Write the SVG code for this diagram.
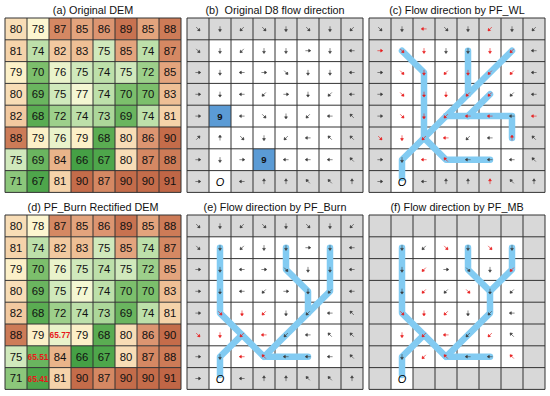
<svg xmlns="http://www.w3.org/2000/svg" xmlns:xlink="http://www.w3.org/1999/xlink" width="550" height="396" viewBox="0 0 550 396">
<style>
text{font-family:"Liberation Sans",Arial,sans-serif}
.t{font-size:10.8px;fill:#111;text-anchor:middle}
.n{font-size:11.3px;fill:#111;text-anchor:middle}
.rn{font-size:8.3px;font-weight:bold;fill:#e8191a;text-anchor:middle}
.grid{fill:none;stroke:#333;stroke-width:1}
.g{fill:#d8d8d8}.w{fill:#fff}.bl{fill:#5b9bd5}
.flow{fill:none;stroke:#82cbf2;stroke-width:6.5;stroke-linecap:round;stroke-linejoin:round}
.k{fill:#3a3a3a;stroke:#3a3a3a;stroke-width:0.6}
.r{fill:#e8191a;stroke:#e8191a}
.o{font-size:11px;font-style:italic;text-anchor:middle;fill:#000}
.nine{font-size:9.5px;font-weight:bold;text-anchor:middle;fill:#111}
.c66{fill:#45a045}.c67{fill:#4ea64b}.c68{fill:#5aac52}.c69{fill:#6ab55f}.c70{fill:#7cbf6c}.c71{fill:#8cc77b}.c72{fill:#9dd08b}.c73{fill:#acd79a}.c74{fill:#bde0aa}.c75{fill:#d0e9bc}.c76{fill:#e9f3cb}.c77{fill:#f4f7d3}.c78{fill:#fdf6d0}.c79{fill:#fcf0c8}.c80{fill:#f8ddb6}.c81{fill:#f5d3aa}.c82{fill:#f2c9a0}.c83{fill:#eebf95}.c84{fill:#e9b48a}.c85{fill:#e3a47d}.c86{fill:#dc9571}.c87{fill:#d58863}.c88{fill:#cd7b57}.c89{fill:#c87250}.c90{fill:#c46c4a}.c91{fill:#c06646}
</style>
<defs>
<rect id="cell" width="22" height="21.8"/>
<path id="gridp" d="M0 0V174.4M22 0V174.4M44 0V174.4M66 0V174.4M88 0V174.4M110 0V174.4M132 0V174.4M154 0V174.4M176 0V174.4M0 0H176M0 21.8H176M0 43.6H176M0 65.4H176M0 87.2H176M0 109H176M0 130.8H176M0 152.6H176M0 174.4H176"/>
<path id="E" d="M-2.6 0H1M2.8 0L0.7-1.4V1.4Z"/>
<path id="SE" d="M-2.6 0H1M2.8 0L0.7-1.4V1.4Z" transform="rotate(45)"/>
<path id="S" d="M-2.6 0H1M2.8 0L0.7-1.4V1.4Z" transform="rotate(90)"/>
<path id="SW" d="M-2.6 0H1M2.8 0L0.7-1.4V1.4Z" transform="rotate(135)"/>
<path id="W" d="M-2.6 0H1M2.8 0L0.7-1.4V1.4Z" transform="rotate(180)"/>
<path id="NW" d="M-2.6 0H1M2.8 0L0.7-1.4V1.4Z" transform="rotate(225)"/>
<path id="N" d="M-2.6 0H1M2.8 0L0.7-1.4V1.4Z" transform="rotate(270)"/>
<path id="NE" d="M-2.6 0H1M2.8 0L0.7-1.4V1.4Z" transform="rotate(315)"/>
</defs>
<rect width="550" height="396" fill="#fff"/>

<!-- titles -->
<text class="t" x="93" y="14">(a) Original DEM</text>
<text class="t" x="275" y="14" xml:space="preserve">(b)  Original D8 flow direction</text>
<text class="t" x="457" y="14">(c) Flow direction by PF_WL</text>
<text class="t" x="93" y="211">(d) PF_Burn Rectified DEM</text>
<text class="t" x="275" y="211">(e) Flow direction by PF_Burn</text>
<text class="t" x="457" y="211">(f) Flow direction by PF_MB</text>

<!-- (a) -->
<g id="panel-a" transform="translate(5,18)">
<g><use href="#cell" class="c80" x="0"/><use href="#cell" class="c78" x="22"/><use href="#cell" class="c87" x="44"/><use href="#cell" class="c85" x="66"/><use href="#cell" class="c86" x="88"/><use href="#cell" class="c89" x="110"/><use href="#cell" class="c85" x="132"/><use href="#cell" class="c88" x="154"/>
<text class="n" x="11" y="14.9">80</text><text class="n" x="33" y="14.9">78</text><text class="n" x="55" y="14.9">87</text><text class="n" x="77" y="14.9">85</text><text class="n" x="99" y="14.9">86</text><text class="n" x="121" y="14.9">89</text><text class="n" x="143" y="14.9">85</text><text class="n" x="165" y="14.9">88</text></g>
<g transform="translate(0,21.8)"><use href="#cell" class="c81" x="0"/><use href="#cell" class="c74" x="22"/><use href="#cell" class="c82" x="44"/><use href="#cell" class="c83" x="66"/><use href="#cell" class="c75" x="88"/><use href="#cell" class="c85" x="110"/><use href="#cell" class="c74" x="132"/><use href="#cell" class="c87" x="154"/>
<text class="n" x="11" y="14.9">81</text><text class="n" x="33" y="14.9">74</text><text class="n" x="55" y="14.9">82</text><text class="n" x="77" y="14.9">83</text><text class="n" x="99" y="14.9">75</text><text class="n" x="121" y="14.9">85</text><text class="n" x="143" y="14.9">74</text><text class="n" x="165" y="14.9">87</text></g>
<g transform="translate(0,43.6)"><use href="#cell" class="c79" x="0"/><use href="#cell" class="c70" x="22"/><use href="#cell" class="c76" x="44"/><use href="#cell" class="c75" x="66"/><use href="#cell" class="c74" x="88"/><use href="#cell" class="c75" x="110"/><use href="#cell" class="c72" x="132"/><use href="#cell" class="c85" x="154"/>
<text class="n" x="11" y="14.9">79</text><text class="n" x="33" y="14.9">70</text><text class="n" x="55" y="14.9">76</text><text class="n" x="77" y="14.9">75</text><text class="n" x="99" y="14.9">74</text><text class="n" x="121" y="14.9">75</text><text class="n" x="143" y="14.9">72</text><text class="n" x="165" y="14.9">85</text></g>
<g transform="translate(0,65.4)"><use href="#cell" class="c80" x="0"/><use href="#cell" class="c69" x="22"/><use href="#cell" class="c75" x="44"/><use href="#cell" class="c77" x="66"/><use href="#cell" class="c74" x="88"/><use href="#cell" class="c70" x="110"/><use href="#cell" class="c70" x="132"/><use href="#cell" class="c83" x="154"/>
<text class="n" x="11" y="14.9">80</text><text class="n" x="33" y="14.9">69</text><text class="n" x="55" y="14.9">75</text><text class="n" x="77" y="14.9">77</text><text class="n" x="99" y="14.9">74</text><text class="n" x="121" y="14.9">70</text><text class="n" x="143" y="14.9">70</text><text class="n" x="165" y="14.9">83</text></g>
<g transform="translate(0,87.2)"><use href="#cell" class="c82" x="0"/><use href="#cell" class="c68" x="22"/><use href="#cell" class="c72" x="44"/><use href="#cell" class="c74" x="66"/><use href="#cell" class="c73" x="88"/><use href="#cell" class="c69" x="110"/><use href="#cell" class="c74" x="132"/><use href="#cell" class="c81" x="154"/>
<text class="n" x="11" y="14.9">82</text><text class="n" x="33" y="14.9">68</text><text class="n" x="55" y="14.9">72</text><text class="n" x="77" y="14.9">74</text><text class="n" x="99" y="14.9">73</text><text class="n" x="121" y="14.9">69</text><text class="n" x="143" y="14.9">74</text><text class="n" x="165" y="14.9">81</text></g>
<g transform="translate(0,109)"><use href="#cell" class="c88" x="0"/><use href="#cell" class="c79" x="22"/><use href="#cell" class="c76" x="44"/><use href="#cell" class="c79" x="66"/><use href="#cell" class="c68" x="88"/><use href="#cell" class="c80" x="110"/><use href="#cell" class="c86" x="132"/><use href="#cell" class="c90" x="154"/>
<text class="n" x="11" y="14.9">88</text><text class="n" x="33" y="14.9">79</text><text class="n" x="55" y="14.9">76</text><text class="n" x="77" y="14.9">79</text><text class="n" x="99" y="14.9">68</text><text class="n" x="121" y="14.9">80</text><text class="n" x="143" y="14.9">86</text><text class="n" x="165" y="14.9">90</text></g>
<g transform="translate(0,130.8)"><use href="#cell" class="c75" x="0"/><use href="#cell" class="c69" x="22"/><use href="#cell" class="c84" x="44"/><use href="#cell" class="c66" x="66"/><use href="#cell" class="c67" x="88"/><use href="#cell" class="c80" x="110"/><use href="#cell" class="c87" x="132"/><use href="#cell" class="c88" x="154"/>
<text class="n" x="11" y="14.9">75</text><text class="n" x="33" y="14.9">69</text><text class="n" x="55" y="14.9">84</text><text class="n" x="77" y="14.9">66</text><text class="n" x="99" y="14.9">67</text><text class="n" x="121" y="14.9">80</text><text class="n" x="143" y="14.9">87</text><text class="n" x="165" y="14.9">88</text></g>
<g transform="translate(0,152.6)"><use href="#cell" class="c71" x="0"/><use href="#cell" class="c67" x="22"/><use href="#cell" class="c81" x="44"/><use href="#cell" class="c90" x="66"/><use href="#cell" class="c87" x="88"/><use href="#cell" class="c90" x="110"/><use href="#cell" class="c90" x="132"/><use href="#cell" class="c91" x="154"/>
<text class="n" x="11" y="14.9">71</text><text class="n" x="33" y="14.9">67</text><text class="n" x="55" y="14.9">81</text><text class="n" x="77" y="14.9">90</text><text class="n" x="99" y="14.9">87</text><text class="n" x="121" y="14.9">90</text><text class="n" x="143" y="14.9">90</text><text class="n" x="165" y="14.9">91</text></g>
<use href="#gridp" class="grid"/>
</g>

<!-- (d) -->
<g id="panel-d" transform="translate(5,215)">
<g><use href="#cell" class="c80" x="0"/><use href="#cell" class="c78" x="22"/><use href="#cell" class="c87" x="44"/><use href="#cell" class="c85" x="66"/><use href="#cell" class="c86" x="88"/><use href="#cell" class="c89" x="110"/><use href="#cell" class="c85" x="132"/><use href="#cell" class="c88" x="154"/>
<text class="n" x="11" y="14.9">80</text><text class="n" x="33" y="14.9">78</text><text class="n" x="55" y="14.9">87</text><text class="n" x="77" y="14.9">85</text><text class="n" x="99" y="14.9">86</text><text class="n" x="121" y="14.9">89</text><text class="n" x="143" y="14.9">85</text><text class="n" x="165" y="14.9">88</text></g>
<g transform="translate(0,21.8)"><use href="#cell" class="c81" x="0"/><use href="#cell" class="c74" x="22"/><use href="#cell" class="c82" x="44"/><use href="#cell" class="c83" x="66"/><use href="#cell" class="c75" x="88"/><use href="#cell" class="c85" x="110"/><use href="#cell" class="c74" x="132"/><use href="#cell" class="c87" x="154"/>
<text class="n" x="11" y="14.9">81</text><text class="n" x="33" y="14.9">74</text><text class="n" x="55" y="14.9">82</text><text class="n" x="77" y="14.9">83</text><text class="n" x="99" y="14.9">75</text><text class="n" x="121" y="14.9">85</text><text class="n" x="143" y="14.9">74</text><text class="n" x="165" y="14.9">87</text></g>
<g transform="translate(0,43.6)"><use href="#cell" class="c79" x="0"/><use href="#cell" class="c70" x="22"/><use href="#cell" class="c76" x="44"/><use href="#cell" class="c75" x="66"/><use href="#cell" class="c74" x="88"/><use href="#cell" class="c75" x="110"/><use href="#cell" class="c72" x="132"/><use href="#cell" class="c85" x="154"/>
<text class="n" x="11" y="14.9">79</text><text class="n" x="33" y="14.9">70</text><text class="n" x="55" y="14.9">76</text><text class="n" x="77" y="14.9">75</text><text class="n" x="99" y="14.9">74</text><text class="n" x="121" y="14.9">75</text><text class="n" x="143" y="14.9">72</text><text class="n" x="165" y="14.9">85</text></g>
<g transform="translate(0,65.4)"><use href="#cell" class="c80" x="0"/><use href="#cell" class="c69" x="22"/><use href="#cell" class="c75" x="44"/><use href="#cell" class="c77" x="66"/><use href="#cell" class="c74" x="88"/><use href="#cell" class="c70" x="110"/><use href="#cell" class="c70" x="132"/><use href="#cell" class="c83" x="154"/>
<text class="n" x="11" y="14.9">80</text><text class="n" x="33" y="14.9">69</text><text class="n" x="55" y="14.9">75</text><text class="n" x="77" y="14.9">77</text><text class="n" x="99" y="14.9">74</text><text class="n" x="121" y="14.9">70</text><text class="n" x="143" y="14.9">70</text><text class="n" x="165" y="14.9">83</text></g>
<g transform="translate(0,87.2)"><use href="#cell" class="c82" x="0"/><use href="#cell" class="c68" x="22"/><use href="#cell" class="c72" x="44"/><use href="#cell" class="c74" x="66"/><use href="#cell" class="c73" x="88"/><use href="#cell" class="c69" x="110"/><use href="#cell" class="c74" x="132"/><use href="#cell" class="c81" x="154"/>
<text class="n" x="11" y="14.9">82</text><text class="n" x="33" y="14.9">68</text><text class="n" x="55" y="14.9">72</text><text class="n" x="77" y="14.9">74</text><text class="n" x="99" y="14.9">73</text><text class="n" x="121" y="14.9">69</text><text class="n" x="143" y="14.9">74</text><text class="n" x="165" y="14.9">81</text></g>
<g transform="translate(0,109)"><use href="#cell" class="c88" x="0"/><use href="#cell" class="c79" x="22"/><use href="#cell" class="c76" x="44"/><use href="#cell" class="c79" x="66"/><use href="#cell" class="c68" x="88"/><use href="#cell" class="c80" x="110"/><use href="#cell" class="c86" x="132"/><use href="#cell" class="c90" x="154"/>
<text class="n" x="11" y="14.9">88</text><text class="n" x="33" y="14.9">79</text><text class="rn" x="55" y="14">65.77</text><text class="n" x="77" y="14.9">79</text><text class="n" x="99" y="14.9">68</text><text class="n" x="121" y="14.9">80</text><text class="n" x="143" y="14.9">86</text><text class="n" x="165" y="14.9">90</text></g>
<g transform="translate(0,130.8)"><use href="#cell" class="c75" x="0"/><use href="#cell" class="c69" x="22"/><use href="#cell" class="c84" x="44"/><use href="#cell" class="c66" x="66"/><use href="#cell" class="c67" x="88"/><use href="#cell" class="c80" x="110"/><use href="#cell" class="c87" x="132"/><use href="#cell" class="c88" x="154"/>
<text class="n" x="11" y="14.9">75</text><text class="rn" x="33" y="14">65.51</text><text class="n" x="55" y="14.9">84</text><text class="n" x="77" y="14.9">66</text><text class="n" x="99" y="14.9">67</text><text class="n" x="121" y="14.9">80</text><text class="n" x="143" y="14.9">87</text><text class="n" x="165" y="14.9">88</text></g>
<g transform="translate(0,152.6)"><use href="#cell" class="c71" x="0"/><use href="#cell" class="c67" x="22"/><use href="#cell" class="c81" x="44"/><use href="#cell" class="c90" x="66"/><use href="#cell" class="c87" x="88"/><use href="#cell" class="c90" x="110"/><use href="#cell" class="c90" x="132"/><use href="#cell" class="c91" x="154"/>
<text class="n" x="11" y="14.9">71</text><text class="rn" x="33" y="14">65.41</text><text class="n" x="55" y="14.9">81</text><text class="n" x="77" y="14.9">90</text><text class="n" x="99" y="14.9">87</text><text class="n" x="121" y="14.9">90</text><text class="n" x="143" y="14.9">90</text><text class="n" x="165" y="14.9">91</text></g>
<use href="#gridp" class="grid"/>
</g>

<!-- (b) -->
<g id="panel-b" transform="translate(187,18)">
<rect class="g" width="176" height="174.4"/>
<rect class="w" x="22" y="21.8" width="132" height="130.8"/>
<rect class="w" x="22" y="152.6" width="22" height="21.8"/>
<rect class="bl" x="22" y="87.2" width="22" height="21.8"/>
<rect class="bl" x="66" y="130.8" width="22" height="21.8"/>
<use href="#gridp" class="grid"/>
<g class="k">
<use href="#SE" x="11" y="10.9"/><use href="#S" x="33" y="10.9"/><use href="#SW" x="55" y="10.9"/><use href="#SE" x="77" y="10.9"/><use href="#S" x="99" y="10.9"/><use href="#SE" x="121" y="10.9"/><use href="#S" x="143" y="10.9"/><use href="#SW" x="165" y="10.9"/>
<use href="#SE" x="11" y="32.7"/><use href="#S" x="33" y="32.7"/><use href="#SW" x="55" y="32.7"/><use href="#S" x="77" y="32.7"/><use href="#S" x="99" y="32.7"/><use href="#E" x="121" y="32.7"/><use href="#S" x="143" y="32.7"/><use href="#W" x="165" y="32.7"/>
<use href="#E" x="11" y="54.5"/><use href="#S" x="33" y="54.5"/><use href="#W" x="55" y="54.5"/><use href="#E" x="77" y="54.5"/><use href="#SE" x="99" y="54.5"/><use href="#S" x="121" y="54.5"/><use href="#S" x="143" y="54.5"/><use href="#W" x="165" y="54.5"/>
<use href="#E" x="11" y="76.3"/><use href="#S" x="33" y="76.3"/><use href="#W" x="55" y="76.3"/><use href="#SW" x="77" y="76.3"/><use href="#E" x="99" y="76.3"/><use href="#S" x="121" y="76.3"/><use href="#SW" x="143" y="76.3"/><use href="#W" x="165" y="76.3"/>
<use href="#E" x="11" y="98.1"/><use href="#W" x="55" y="98.1"/><use href="#SE" x="77" y="98.1"/><use href="#S" x="99" y="98.1"/><use href="#SW" x="121" y="98.1"/><use href="#W" x="143" y="98.1"/><use href="#NW" x="165" y="98.1"/>
<use href="#NE" x="11" y="119.9"/><use href="#N" x="33" y="119.9"/><use href="#SE" x="55" y="119.9"/><use href="#S" x="77" y="119.9"/><use href="#SW" x="99" y="119.9"/><use href="#W" x="121" y="119.9"/><use href="#NW" x="143" y="119.9"/><use href="#NW" x="165" y="119.9"/>
<use href="#E" x="11" y="141.7"/><use href="#S" x="33" y="141.7"/><use href="#E" x="55" y="141.7"/><use href="#W" x="99" y="141.7"/><use href="#W" x="121" y="141.7"/><use href="#W" x="143" y="141.7"/><use href="#NW" x="165" y="141.7"/>
<use href="#E" x="11" y="163.5"/><use href="#W" x="55" y="163.5"/><use href="#N" x="77" y="163.5"/><use href="#N" x="99" y="163.5"/><use href="#NW" x="121" y="163.5"/><use href="#NW" x="143" y="163.5"/><use href="#N" x="165" y="163.5"/>
</g>
<text class="nine" x="33" y="101.5">9</text>
<text class="nine" x="77" y="145.1">9</text>
<text class="o" x="33" y="167.5">O</text>
</g>

<!-- (c) -->
<g id="panel-c" transform="translate(369,18)">
<rect class="g" width="176" height="174.4"/>
<rect class="w" x="22" y="21.8" width="132" height="130.8"/>
<rect class="w" x="22" y="152.6" width="22" height="21.8"/>
<use href="#gridp" class="grid"/>
<g id="flow-c" class="flow">
<path d="M33 32.7L55 54.5V119.9L77 141.7H121"/>
<path d="M143 32.7L33 141.7V160"/>
<path d="M99 32.7V76.3"/>
<path d="M121 76.3L99 98.1"/>
<path d="M77 98.1H143V119.9"/>
</g>
<g class="k">
<use href="#SE" x="11" y="10.9"/><use href="#S" x="33" y="10.9"/><use href="#W" class="r" x="55" y="10.9"/><use href="#SE" x="77" y="10.9"/><use href="#S" x="99" y="10.9"/><use href="#SW" class="r" x="121" y="10.9"/><use href="#S" x="143" y="10.9"/><use href="#SW" x="165" y="10.9"/>
<use href="#E" class="r" x="11" y="32.7"/><use href="#SE" class="r" x="33" y="32.7"/><use href="#S" class="r" x="55" y="32.7"/><use href="#S" x="77" y="32.7"/><use href="#S" x="99" y="32.7"/><use href="#S" class="r" x="121" y="32.7"/><use href="#SW" class="r" x="143" y="32.7"/><use href="#W" x="165" y="32.7"/>
<use href="#E" x="11" y="54.5"/><use href="#SE" class="r" x="33" y="54.5"/><use href="#S" class="r" x="55" y="54.5"/><use href="#SW" class="r" x="77" y="54.5"/><use href="#S" class="r" x="99" y="54.5"/><use href="#SW" class="r" x="121" y="54.5"/><use href="#SW" class="r" x="143" y="54.5"/><use href="#W" x="165" y="54.5"/>
<use href="#E" x="11" y="76.3"/><use href="#SE" class="r" x="33" y="76.3"/><use href="#S" class="r" x="55" y="76.3"/><use href="#S" class="r" x="77" y="76.3"/><use href="#SW" class="r" x="99" y="76.3"/><use href="#SW" class="r" x="121" y="76.3"/><use href="#SW" x="143" y="76.3"/><use href="#W" x="165" y="76.3"/>
<use href="#E" x="11" y="98.1"/><use href="#SE" class="r" x="33" y="98.1"/><use href="#S" class="r" x="55" y="98.1"/><use href="#SW" class="r" x="77" y="98.1"/><use href="#W" class="r" x="99" y="98.1"/><use href="#W" class="r" x="121" y="98.1"/><use href="#W" x="143" y="98.1"/><use href="#W" class="r" x="165" y="98.1"/>
<use href="#SE" class="r" x="11" y="119.9"/><use href="#S" class="r" x="33" y="119.9"/><use href="#SW" class="r" x="55" y="119.9"/><use href="#W" class="r" x="77" y="119.9"/><use href="#SW" x="99" y="119.9"/><use href="#W" x="121" y="119.9"/><use href="#N" class="r" x="143" y="119.9"/><use href="#NW" x="165" y="119.9"/>
<use href="#E" x="11" y="141.7"/><use href="#S" x="33" y="141.7"/><use href="#W" class="r" x="55" y="141.7"/><use href="#NW" class="r" x="77" y="141.7"/><use href="#W" x="99" y="141.7"/><use href="#W" x="121" y="141.7"/><use href="#W" x="143" y="141.7"/><use href="#NW" x="165" y="141.7"/>
<use href="#E" x="11" y="163.5"/><use href="#W" x="55" y="163.5"/><use href="#N" x="77" y="163.5"/><use href="#N" x="99" y="163.5"/><use href="#N" class="r" x="121" y="163.5"/><use href="#NW" x="143" y="163.5"/><use href="#N" x="165" y="163.5"/>
</g>
<text class="o" x="33" y="167.5">O</text>
</g>

<!-- (e) -->
<g id="panel-e" transform="translate(187,215)">
<rect class="g" width="176" height="174.4"/>
<rect class="w" x="22" y="21.8" width="132" height="130.8"/>
<rect class="w" x="22" y="152.6" width="22" height="21.8"/>
<use href="#gridp" class="grid"/>
<g id="flow-e" class="flow">
<path d="M33 32.7V98.1L77 141.7H121"/>
<path d="M99 32.7V54.5L121 76.3V98.1"/>
<path d="M143 32.7V76.3L121 98.1L77 141.7"/>
<path d="M55 119.9L33 141.7V160"/>
</g>
<g class="k">
<use href="#SE" x="11" y="10.9"/><use href="#S" x="33" y="10.9"/><use href="#SW" x="55" y="10.9"/><use href="#SE" x="77" y="10.9"/><use href="#S" x="99" y="10.9"/><use href="#SE" x="121" y="10.9"/><use href="#S" x="143" y="10.9"/><use href="#SW" x="165" y="10.9"/>
<use href="#SE" x="11" y="32.7"/><use href="#S" x="33" y="32.7"/><use href="#SW" x="55" y="32.7"/><use href="#S" x="77" y="32.7"/><use href="#S" x="99" y="32.7"/><use href="#E" x="121" y="32.7"/><use href="#S" x="143" y="32.7"/><use href="#W" x="165" y="32.7"/>
<use href="#E" x="11" y="54.5"/><use href="#S" x="33" y="54.5"/><use href="#W" x="55" y="54.5"/><use href="#E" x="77" y="54.5"/><use href="#SE" x="99" y="54.5"/><use href="#S" x="121" y="54.5"/><use href="#S" x="143" y="54.5"/><use href="#W" x="165" y="54.5"/>
<use href="#E" x="11" y="76.3"/><use href="#S" x="33" y="76.3"/><use href="#W" x="55" y="76.3"/><use href="#SW" x="77" y="76.3"/><use href="#E" x="99" y="76.3"/><use href="#S" x="121" y="76.3"/><use href="#SW" x="143" y="76.3"/><use href="#W" x="165" y="76.3"/>
<use href="#E" x="11" y="98.1"/><use href="#SE" class="r" x="33" y="98.1"/><use href="#S" class="r" x="55" y="98.1"/><use href="#SW" class="r" x="77" y="98.1"/><use href="#S" x="99" y="98.1"/><use href="#SW" x="121" y="98.1"/><use href="#W" x="143" y="98.1"/><use href="#NW" x="165" y="98.1"/>
<use href="#SE" class="r" x="11" y="119.9"/><use href="#S" class="r" x="33" y="119.9"/><use href="#SW" class="r" x="55" y="119.9"/><use href="#W" class="r" x="77" y="119.9"/><use href="#SW" x="99" y="119.9"/><use href="#W" x="121" y="119.9"/><use href="#NW" x="143" y="119.9"/><use href="#NW" x="165" y="119.9"/>
<use href="#E" x="11" y="141.7"/><use href="#S" x="33" y="141.7"/><use href="#W" class="r" x="55" y="141.7"/><use href="#NW" class="r" x="77" y="141.7"/><use href="#W" x="99" y="141.7"/><use href="#W" x="121" y="141.7"/><use href="#W" x="143" y="141.7"/><use href="#NW" x="165" y="141.7"/>
<use href="#E" x="11" y="163.5"/><use href="#W" x="55" y="163.5"/><use href="#N" x="77" y="163.5"/><use href="#N" x="99" y="163.5"/><use href="#NW" x="121" y="163.5"/><use href="#NW" x="143" y="163.5"/><use href="#N" x="165" y="163.5"/>
</g>
<text class="o" x="33" y="167.5">O</text>
</g>

<!-- (f) -->
<g id="panel-f" transform="translate(369,215)">
<rect class="g" width="176" height="174.4"/>
<rect class="w" x="22" y="21.8" width="132" height="130.8"/>
<rect class="w" x="22" y="152.6" width="22" height="21.8"/>
<use href="#gridp" class="grid"/>
<g id="flow-f" class="flow">
<path d="M33 32.7V98.1L77 141.7H121"/>
<path d="M99 32.7V54.5L121 76.3V98.1L77 141.7"/>
<path d="M143 32.7V54.5L121 76.3"/>
<path d="M55 119.9L33 141.7V160"/>
</g>
<g class="k">
<use href="#S" x="33" y="32.7"/><use href="#SW" x="55" y="32.7"/><use href="#SE" class="r" x="77" y="32.7"/><use href="#S" x="99" y="32.7"/><use href="#SE" class="r" x="121" y="32.7"/><use href="#S" x="143" y="32.7"/>
<use href="#S" x="33" y="54.5"/><use href="#SW" class="r" x="55" y="54.5"/><use href="#E" x="77" y="54.5"/><use href="#SE" x="99" y="54.5"/><use href="#S" x="121" y="54.5"/><use href="#SW" class="r" x="143" y="54.5"/>
<use href="#S" x="33" y="76.3"/><use href="#SW" class="r" x="55" y="76.3"/><use href="#SW" x="77" y="76.3"/><use href="#SE" class="r" x="99" y="76.3"/><use href="#S" x="121" y="76.3"/><use href="#SW" x="143" y="76.3"/>
<use href="#SE" class="r" x="33" y="98.1"/><use href="#S" class="r" x="55" y="98.1"/><use href="#SW" class="r" x="77" y="98.1"/><use href="#S" x="99" y="98.1"/><use href="#SW" x="121" y="98.1"/><use href="#W" x="143" y="98.1"/>
<use href="#S" class="r" x="33" y="119.9"/><use href="#SW" class="r" x="55" y="119.9"/><use href="#W" class="r" x="77" y="119.9"/><use href="#SW" x="99" y="119.9"/><use href="#SW" class="r" x="121" y="119.9"/><use href="#NW" x="143" y="119.9"/>
<use href="#S" x="33" y="141.7"/><use href="#SW" class="r" x="55" y="141.7"/><use href="#NW" class="r" x="77" y="141.7"/><use href="#W" x="99" y="141.7"/><use href="#W" x="121" y="141.7"/><use href="#NW" class="r" x="143" y="141.7"/>
</g>
<text class="o" x="33" y="167.5">O</text>
</g>
</svg>
